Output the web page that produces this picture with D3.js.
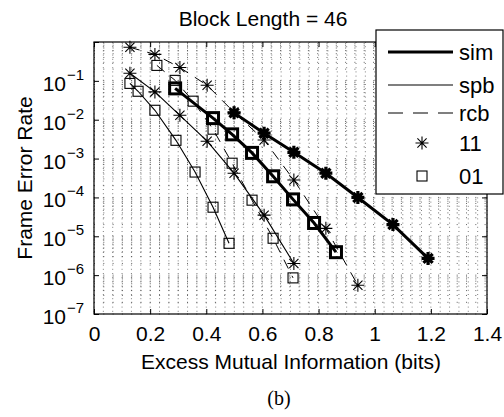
<!DOCTYPE html>
<html>
<head>
<meta charset="utf-8">
<script src="https://cdn.jsdelivr.net/npm/d3@7"></script>
<style>
  body { margin: 0; background: #fff; }
  svg { display: block; }
  text { font-family: "Liberation Sans", Arial, sans-serif; fill: #000; }
</style>
</head>
<body>
<script>
// x ticks and y decades
var xTicks = [0, 0.2, 0.4, 0.6, 0.8, 1, 1.2, 1.4];
var yExps = [-7, -6, -5, -4, -3, -2, -1];

// "11" curves (stars)
var sim11X = [0.499, 0.606, 0.712, 0.826, 0.940, 1.065, 1.190];
var sim11Y = [1.5e-2, 4.5e-3, 1.45e-3, 4.2e-4, 1.0e-4, 2.0e-5, 2.7e-6];
var spb11X = [0.128, 0.217, 0.306, 0.403, 0.499, 0.606, 0.712];
var spb11Y = [0.157, 5.2e-2, 1.3e-2, 2.8e-3, 4.2e-4, 3.5e-5, 2.0e-6];
var rcb11X = [0.128, 0.217, 0.306, 0.403, 0.499, 0.606, 0.712, 0.826, 0.940];
var rcb11Y = [0.73, 0.48, 0.22, 7.7e-2, 1.55e-2, 3.0e-3, 2.8e-4, 1.6e-5, 5.5e-7];

// "01" curves (squares)
var sim01X = [0.289, 0.424, 0.492, 0.563, 0.638, 0.709, 0.784, 0.862];
var sim01Y = [6.4e-2, 1.1e-2, 4.2e-3, 1.4e-3, 3.5e-4, 8.9e-5, 2.2e-5, 3.9e-6];
var spb01X = [0.128, 0.157, 0.217, 0.292, 0.360, 0.424, 0.481];
var spb01Y = [8.6e-2, 5.4e-2, 1.75e-2, 2.95e-3, 4.5e-4, 5.6e-5, 6.6e-6];
var rcb01X = [0.224, 0.289, 0.353, 0.424, 0.492, 0.563, 0.638, 0.709];
var rcb01Y = [0.25, 0.103, 0.030, 5.7e-3, 7.6e-4, 8.5e-5, 8.9e-6, 8.5e-7];

var legendNames = ["sim", "spb", "rcb", "11", "01"];

var W = 504, H = 417;
var pL = 94, pR = 487, pT = 42, pB = 314;

var svg = d3.select("body").append("svg")
    .attr("width", W)
    .attr("height", H);

var x = d3.scaleLinear().domain([0, 1.4]).range([pL, pR]);
var y = d3.scaleLog().domain([1e-7, 1]).range([pB, pT]);

// grid (dotted, like the matlab minor grid)
var grid = svg.append("g")
    .attr("stroke", "#333")
    .attr("stroke-width", 0.9);

var minorX = d3.range(0, 1.4001, 0.2 / 6);
grid.selectAll(".vx")
    .data(minorX)
    .enter().append("line")
    .attr("x1", function(d) { return x(d); })
    .attr("x2", function(d) { return x(d); })
    .attr("y1", pT)
    .attr("y2", pB)
    .attr("stroke-dasharray", "1,3.2")
    .attr("stroke-opacity", 0.7);

var logLines = [];
yExps.concat([0]).forEach(function(e) {
    for (var m = 1; m <= 9; m++) {
        var v = m * Math.pow(10, e - 1);
        if (v >= 1e-7 && v <= 1) logLines.push(v);
    }
});
grid.selectAll(".hy")
    .data(logLines)
    .enter().append("line")
    .attr("x1", pL)
    .attr("x2", pR)
    .attr("y1", function(d) { return y(d); })
    .attr("y2", function(d) { return y(d); })
    .attr("stroke-dasharray", "1,8.3")
    .attr("stroke-opacity", 0.85);

// curves
var line = d3.line()
    .x(function(d) { return x(d[0]); })
    .y(function(d) { return y(d[1]); });

function pairs(xs, ys) {
    return xs.map(function(v, i) { return [v, ys[i]]; });
}

var series = [
    { xs: rcb11X, ys: rcb11Y, w: 1, dash: "10,8", mark: "star" },
    { xs: rcb01X, ys: rcb01Y, w: 1, dash: "10,8", mark: "square" },
    { xs: spb11X, ys: spb11Y, w: 1.1, dash: null, mark: "star" },
    { xs: spb01X, ys: spb01Y, w: 1.1, dash: null, mark: "square" },
    { xs: sim11X, ys: sim11Y, w: 3, dash: null, mark: "star" },
    { xs: sim01X, ys: sim01Y, w: 3, dash: null, mark: "square" }
];

var starPath = "M-6.5,0L6.5,0M0,-6.5L0,6.5M-4.6,-4.6L4.6,4.6M-4.6,4.6L4.6,-4.6";

function drawMarker(g, mark, w) {
    if (mark === "star") {
        g.append("path").attr("d", starPath)
            .attr("fill", "none").attr("stroke", "#000")
            .attr("stroke-width", w > 2 ? 3.2 : 1.1);
    } else {
        var s = w > 2 ? 11 : 10;
        g.append("rect")
            .attr("x", -s / 2).attr("y", -s / 2)
            .attr("width", s).attr("height", s)
            .attr("fill", "none").attr("stroke", "#000")
            .attr("stroke-width", w > 2 ? 3 : 1.1);
    }
}

series.forEach(function(s) {
    var pts = pairs(s.xs, s.ys);
    svg.append("path")
        .datum(pts)
        .attr("d", line)
        .attr("fill", "none")
        .attr("stroke", "#000")
        .attr("stroke-width", s.w)
        .attr("stroke-dasharray", s.dash);
    svg.selectAll(null)
        .data(pts)
        .enter().append("g")
        .attr("transform", function(d) { return "translate(" + x(d[0]) + "," + y(d[1]) + ")"; })
        .each(function() { drawMarker(d3.select(this), s.mark, s.w); });
});

// axes box + ticks
svg.append("rect")
    .attr("x", pL).attr("y", pT)
    .attr("width", pR - pL).attr("height", pB - pT)
    .attr("fill", "none").attr("stroke", "#000").attr("stroke-width", 1.2);

svg.append("g")
    .attr("transform", "translate(0," + pB + ")")
    .call(d3.axisBottom(x).tickValues(xTicks).tickSizeInner(-5).tickSizeOuter(0).tickPadding(12)
        .tickFormat(function(d) { return d3.format("")(+d.toFixed(1)); }))
    .call(function(g) {
        g.select(".domain").remove();
        g.selectAll("text").attr("font-size", 21).attr("font-family", "Liberation Sans, Arial, sans-serif");
    });
svg.append("g")
    .attr("transform", "translate(0," + pT + ")")
    .call(d3.axisTop(x).tickValues(xTicks).tickSizeInner(-5).tickSizeOuter(0).tickFormat(""))
    .call(function(g) { g.select(".domain").remove(); });

var yMajor = yExps.concat([0]).map(function(e) { return Math.pow(10, e); });
svg.append("g")
    .attr("transform", "translate(" + pL + ",0)")
    .call(d3.axisLeft(y).tickValues(yMajor).tickSizeInner(-5).tickSizeOuter(0).tickFormat(""))
    .call(function(g) { g.select(".domain").remove(); });
svg.append("g")
    .attr("transform", "translate(" + pR + ",0)")
    .call(d3.axisRight(y).tickValues(yMajor).tickSizeInner(-5).tickSizeOuter(0).tickFormat(""))
    .call(function(g) { g.select(".domain").remove(); });

// y tick labels 10^k
var yl = svg.selectAll(".ylab")
    .data(yExps)
    .enter().append("g")
    .attr("transform", function(d) { return "translate(0," + y(Math.pow(10, d)) + ")"; });
yl.append("text")
    .attr("x", 66).attr("y", 10)
    .attr("text-anchor", "end")
    .attr("font-size", 21)
    .text("10");
yl.append("text")
    .attr("x", 67).attr("y", -1)
    .attr("font-size", 15)
    .text(function(d) { return "\u2212" + (-d); });

// titles
svg.append("text")
    .attr("x", 263).attr("y", 26)
    .attr("text-anchor", "middle")
    .attr("font-size", 21)
    .text("Block Length = 46");
svg.append("text")
    .attr("x", 291).attr("y", 369)
    .attr("text-anchor", "middle")
    .attr("font-size", 21)
    .text("Excess Mutual Information (bits)");
svg.append("text")
    .attr("transform", "translate(32,178) rotate(-90)")
    .attr("text-anchor", "middle")
    .attr("font-size", 21)
    .text("Frame Error Rate");
svg.append("text")
    .attr("x", 279).attr("y", 405)
    .attr("text-anchor", "middle")
    .attr("font-size", 20)
    .style("font-family", "Liberation Serif, Times New Roman, serif")
    .text("(b)");

// legend
var lg = svg.append("g");
lg.append("rect")
    .attr("x", 376).attr("y", 30)
    .attr("width", 127).attr("height", 164)
    .attr("fill", "#fff").attr("stroke", "#000").attr("stroke-width", 1.2);

var legY = [52, 85, 113, 143, 176];
var legStyle = [
    { w: 3, dash: null, mark: null },
    { w: 1.1, dash: null, mark: null },
    { w: 1.1, dash: "15,10", mark: null },
    { w: 1, dash: null, mark: "star" },
    { w: 1, dash: null, mark: "square" }
];
legendNames.forEach(function(name, i) {
    var st = legStyle[i];
    if (st.mark) {
        var g = lg.append("g").attr("transform", "translate(422," + legY[i] + ")");
        drawMarker(g, st.mark, st.w);
    } else {
        lg.append("line")
            .attr("x1", 388).attr("x2", 453)
            .attr("y1", legY[i]).attr("y2", legY[i])
            .attr("stroke", "#000").attr("stroke-width", st.w)
            .attr("stroke-dasharray", st.dash);
    }
    lg.append("text")
        .attr("x", 459).attr("y", legY[i] + 8)
        .attr("font-size", 22)
        .text(name);
});
</script>
</body>
</html>
